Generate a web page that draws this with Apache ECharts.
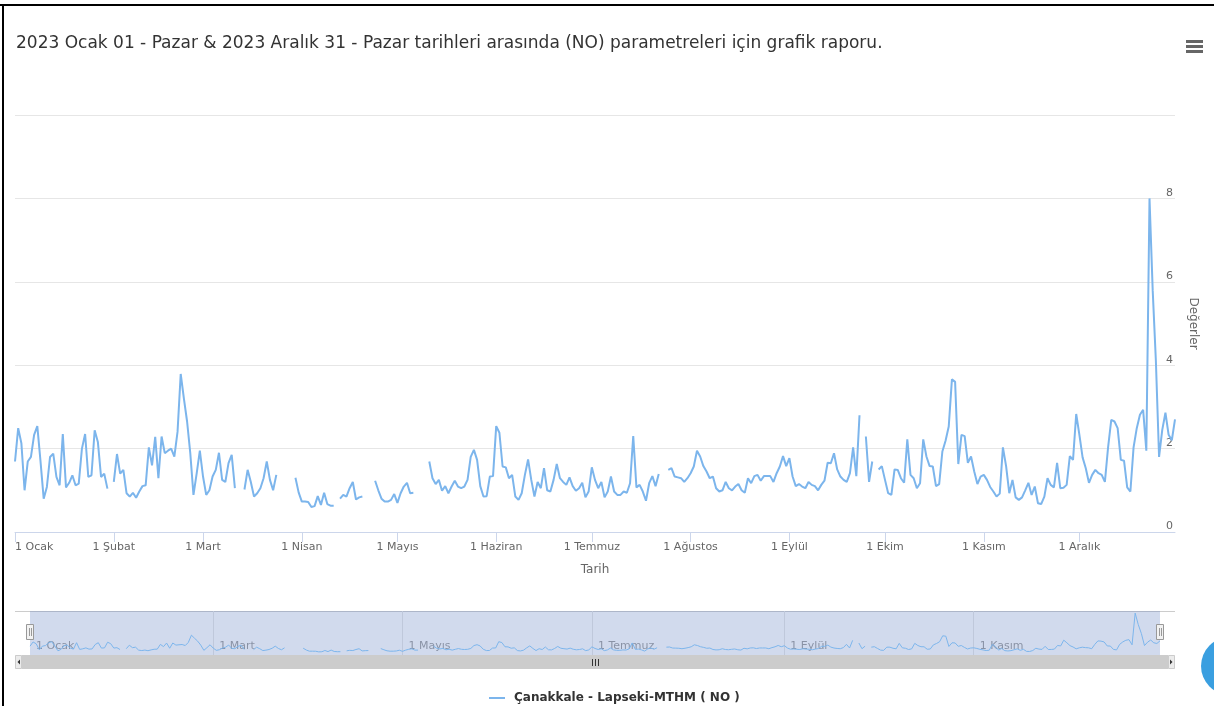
<!DOCTYPE html>
<html>
<head>
<meta charset="utf-8">
<title>NO grafik raporu</title>
<script src="https://cdn.jsdelivr.net/npm/echarts@6/dist/echarts.min.js"></script>
<style>
  html, body { margin: 0; padding: 0; background: #fff; }
  #chart { width: 1214px; height: 706px; }
</style>
</head>
<body>
<div id="chart"></div>
<script>
const seriesName = 'Çanakkale - Lapseki-MTHM ( NO )';
const titleText = '2023 Ocak 01 - Pazar & 2023 Aralık 31 - Pazar tarihleri arasında (NO) parametreleri için grafik raporu.';

// day index (0 = 1 Ocak 2023) of each month start, and its label
const monthStarts = [0, 31, 59, 90, 120, 151, 181, 212, 243, 273, 304, 334];
const monthNames = ['Ocak', 'Şubat', 'Mart', 'Nisan', 'Mayıs', 'Haziran', 'Temmuz', 'Ağustos', 'Eylül', 'Ekim', 'Kasım', 'Aralık'];
const navLabelDays = [0, 59, 120, 181, 243, 304];
const navLineDays = [59, 120, 181, 243, 304];

// daily NO values, one array per month (null = no measurement)
const ocak = [1.69, 2.49, 2.13, 1.0, 1.69, 1.8, 2.33, 2.54, 1.7, 0.8, 1.08, 1.8, 1.88, 1.32, 1.12, 2.35,
  1.07, 1.18, 1.36, 1.12, 1.16, 2.0, 2.35, 1.32, 1.36, 2.44, 2.16, 1.32, 1.4, 1.04, null];
const subat = [1.2, 1.87, 1.4, 1.49, 0.93, 0.85, 0.94, 0.82, 0.97, 1.1, 1.12, 2.03, 1.6, 2.28,
  1.29, 2.29, 1.89, 1.95, 2.0, 1.81, 2.4, 3.79, 3.2, 2.65, 1.89, 0.89, 1.4, 1.95];
const mart = [1.33, 0.89, 1.0, 1.33, 1.49, 1.9, 1.25, 1.2, 1.65, 1.85, 1.05, null, null, 1.02, 1.49, 1.2,
  0.85, 0.93, 1.05, 1.29, 1.69, 1.25, 1.0, 1.37, null, null, null, null, null, 1.3, 0.95];
const nisan = [0.73, 0.73, 0.72, 0.6, 0.62, 0.86, 0.65, 0.94, 0.67, 0.63, 0.63, null, 0.8, 0.89, 0.85,
  1.05, 1.2, 0.78, 0.83, 0.85, null, null, null, 1.23, 1.0, 0.8, 0.73, 0.73, 0.77, 0.91];
const mayis = [0.7, 0.93, 1.09, 1.18, 0.93, 0.94, null, null, null, null, 1.69, 1.29, 1.15, 1.25, 0.99, 1.1,
  0.93, 1.09, 1.23, 1.09, 1.05, 1.09, 1.25, 1.8, 1.97, 1.73, 1.1, 0.85, 0.86, 1.33, 1.34];
const haziran = [2.54, 2.38, 1.57, 1.55, 1.29, 1.37, 0.85, 0.77, 0.93, 1.37, 1.74, 1.25, 0.85, 1.2, 1.05,
  1.53, 1.0, 0.97, 1.25, 1.63, 1.29, 1.2, 1.13, 1.31, 1.1, 0.99, 1.05, 1.18, 0.83, 0.97];
const temmuz = [1.55, 1.25, 1.05, 1.2, 0.83, 0.97, 1.33, 0.97, 0.89, 0.89, 0.97, 0.94, 1.17, 2.3, 1.07, 1.13,
  0.97, 0.75, 1.17, 1.34, 1.1, 1.39, null, null, 1.49, 1.53, 1.33, 1.31, 1.29, 1.2, 1.29];
const agustos = [1.41, 1.57, 1.95, 1.81, 1.58, 1.45, 1.29, 1.33, 1.05, 0.97, 1.0, 1.2, 1.05, 1.0, 1.09, 1.15,
  1.0, 0.94, 1.29, 1.17, 1.34, 1.37, 1.23, 1.34, 1.34, 1.34, 1.2, 1.41, 1.57, 1.82, 1.58];
const eylul = [1.77, 1.33, 1.1, 1.15, 1.09, 1.05, 1.2, 1.13, 1.1, 1.0, 1.13, 1.23, 1.66, 1.65, 1.89,
  1.5, 1.33, 1.25, 1.2, 1.41, 2.03, 1.34, 2.8, null, 2.29, 1.2, 1.69, null, 1.5, 1.58];
const ekim = [1.25, 0.93, 0.89, 1.5, 1.49, 1.29, 1.18, 2.22, 1.37, 1.29, 1.05, 1.17, 2.22, 1.81, 1.58, 1.57,
  1.1, 1.15, 1.93, 2.19, 2.53, 3.66, 3.6, 1.63, 2.33, 2.3, 1.66, 1.81, 1.45, 1.15, 1.33];
const kasim = [1.37, 1.25, 1.08, 0.97, 0.85, 0.92, 2.03, 1.58, 0.93, 1.25, 0.83, 0.77, 0.83, 1.0, 1.18,
  0.89, 1.09, 0.69, 0.67, 0.85, 1.29, 1.13, 1.07, 1.66, 1.05, 1.06, 1.13, 1.82, 1.73, 2.83];
const aralik = [2.33, 1.79, 1.53, 1.18, 1.37, 1.49, 1.41, 1.37, 1.2, 2.03, 2.69, 2.65, 2.49, 1.73, 1.71, 1.07,
  0.97, 2.03, 2.49, 2.81, 2.93, 1.95, 8.0, 5.8, 4.1, 1.8, 2.45, 2.86, 2.33, 2.2, 2.7];

const values = [].concat(ocak, subat, mart, nisan, mayis, haziran, temmuz, agustos, eylul, ekim, kasim, aralik);
const points = values.map((v, i) => [i, v]);

const monthLabel = (v) => {
  const idx = monthStarts.indexOf(Math.round(v));
  return idx >= 0 ? '1 ' + monthNames[idx] : '';
};

const fontFamily = '"DejaVu Sans", "Open Sans", sans-serif';
const chart = echarts.init(document.getElementById('chart'));

const option = {
  animation: false,
  textStyle: { fontFamily: fontFamily },
  title: {
    text: titleText,
    left: 11,
    top: 30,
    textStyle: { fontSize: 17, fontWeight: 'normal', color: '#333333', fontFamily: fontFamily }
  },
  legend: {
    data: [seriesName],
    top: 687,
    left: 484,
    icon: 'rect',
    itemWidth: 16,
    itemHeight: 2,
    itemGap: 10,
    textStyle: { fontSize: 12, fontWeight: 'bold', color: '#333333', fontFamily: fontFamily, padding: [0, 0, 0, 4] }
  },
  grid: [
    { left: 15, top: 115, width: 1160, height: 417 },
    { left: 30, top: 611, width: 1130, height: 44 }
  ],
  xAxis: [
    {
      type: 'value',
      gridIndex: 0,
      min: 0,
      max: 364,
      name: 'Tarih',
      nameLocation: 'middle',
      nameGap: 32,
      nameTextStyle: { fontSize: 12, color: '#666666', fontFamily: fontFamily },
      axisLine: { lineStyle: { color: '#ccd6eb' } },
      axisTick: { customValues: monthStarts, length: 10, lineStyle: { color: '#ccd6eb' } },
      axisLabel: {
        customValues: monthStarts,
        formatter: monthLabel,
        fontSize: 11,
        color: '#666666',
        margin: 10,
        alignMinLabel: 'left',
        fontFamily: fontFamily
      },
      splitLine: { show: false }
    },
    {
      type: 'value',
      gridIndex: 1,
      min: 0,
      max: 364,
      axisLine: { show: false },
      axisTick: { inside: true, length: 44, customValues: navLineDays, lineStyle: { color: '#e6e6e6' } },
      axisLabel: {
        inside: true,
        customValues: navLabelDays,
        formatter: monthLabel,
        fontSize: 11,
        color: '#999999',
        align: 'left',
        padding: [0, 0, 0, 6],
        margin: 3,
        fontFamily: fontFamily
      },
      splitLine: { show: false }
    }
  ],
  yAxis: [
    {
      type: 'value',
      gridIndex: 0,
      position: 'right',
      min: 0,
      max: 10,
      interval: 2,
      name: 'Değerler',
      nameLocation: 'middle',
      nameRotate: -90,
      nameGap: 12,
      nameTextStyle: { fontSize: 12, color: '#666666', fontFamily: fontFamily },
      axisLine: { show: false },
      axisTick: { show: false },
      axisLabel: {
        inside: true,
        margin: 2,
        verticalAlign: 'bottom',
        fontSize: 11,
        color: '#666666',
        fontFamily: fontFamily,
        formatter: (v) => (v === 10 ? '' : String(v))
      },
      splitLine: { lineStyle: { color: '#e6e6e6' } }
    },
    {
      type: 'value',
      gridIndex: 1,
      min: 0,
      max: 8.4,
      show: false
    }
  ],
  series: [
    {
      name: seriesName,
      type: 'line',
      xAxisIndex: 0,
      yAxisIndex: 0,
      data: points,
      symbol: 'none',
      connectNulls: false,
      itemStyle: { color: '#7cb5ec' },
      lineStyle: { color: '#7cb5ec', width: 2 },
      z: 3
    },
    {
      name: seriesName,
      type: 'line',
      xAxisIndex: 1,
      yAxisIndex: 1,
      data: points,
      symbol: 'none',
      silent: true,
      connectNulls: false,
      itemStyle: { color: '#7cb5ec' },
      lineStyle: { color: '#7cb5ec', width: 1 },
      z: 3
    }
  ],
  graphic: [
    // frame
    { type: 'rect', shape: { x: 0, y: 4, width: 1214, height: 2 }, style: { fill: '#000' } },
    { type: 'rect', shape: { x: 2, y: 4, width: 2, height: 702 }, style: { fill: '#000' } },
    // context menu icon
    { type: 'rect', shape: { x: 1186, y: 40, width: 17, height: 3 }, style: { fill: '#666' } },
    { type: 'rect', shape: { x: 1186, y: 45, width: 17, height: 3 }, style: { fill: '#666' } },
    { type: 'rect', shape: { x: 1186, y: 50, width: 17, height: 3 }, style: { fill: '#666' } },
    // navigator outline and mask
    { type: 'line', shape: { x1: 15, y1: 611.5, x2: 1175, y2: 611.5 }, style: { stroke: '#cccccc', lineWidth: 1 } },
    { type: 'rect', z: 1, shape: { x: 30, y: 611, width: 1130, height: 44 }, style: { fill: 'rgba(102,133,194,0.3)' } },
    // handles
    { type: 'rect', z: 5, shape: { x: 26.5, y: 624.5, width: 7, height: 15 }, style: { fill: '#f2f2f2', stroke: '#999', lineWidth: 1 } },
    { type: 'line', z: 5, shape: { x1: 29.5, y1: 628, x2: 29.5, y2: 636 }, style: { stroke: '#999', lineWidth: 1 } },
    { type: 'line', z: 5, shape: { x1: 31.5, y1: 628, x2: 31.5, y2: 636 }, style: { stroke: '#999', lineWidth: 1 } },
    { type: 'rect', z: 5, shape: { x: 1156.5, y: 624.5, width: 7, height: 15 }, style: { fill: '#f2f2f2', stroke: '#999', lineWidth: 1 } },
    { type: 'line', z: 5, shape: { x1: 1159.5, y1: 628, x2: 1159.5, y2: 636 }, style: { stroke: '#999', lineWidth: 1 } },
    { type: 'line', z: 5, shape: { x1: 1161.5, y1: 628, x2: 1161.5, y2: 636 }, style: { stroke: '#999', lineWidth: 1 } },
    // scrollbar
    { type: 'rect', shape: { x: 15, y: 655, width: 1160, height: 14 }, style: { fill: '#f2f2f2' } },
    { type: 'rect', shape: { x: 22, y: 655, width: 1146, height: 14 }, style: { fill: '#cccccc' } },
    { type: 'rect', shape: { x: 15.5, y: 655.5, width: 6, height: 13 }, style: { fill: '#ebebeb', stroke: '#cccccc', lineWidth: 1 } },
    { type: 'rect', shape: { x: 1168.5, y: 655.5, width: 6, height: 13 }, style: { fill: '#ebebeb', stroke: '#cccccc', lineWidth: 1 } },
    { type: 'polygon', shape: { points: [[20, 659.5], [20, 664.5], [17.5, 662]] }, style: { fill: '#333' } },
    { type: 'polygon', shape: { points: [[1170, 659.5], [1170, 664.5], [1172.5, 662]] }, style: { fill: '#333' } },
    { type: 'line', shape: { x1: 592.5, y1: 659, x2: 592.5, y2: 666 }, style: { stroke: '#333', lineWidth: 1 } },
    { type: 'line', shape: { x1: 595.5, y1: 659, x2: 595.5, y2: 666 }, style: { stroke: '#333', lineWidth: 1 } },
    { type: 'line', shape: { x1: 598.5, y1: 659, x2: 598.5, y2: 666 }, style: { stroke: '#333', lineWidth: 1 } },
    // floating button partly outside the page
    { type: 'circle', shape: { cx: 1230, cy: 666, r: 29 }, style: { fill: '#3a9fe0' } }
  ]
};

chart.setOption(option);
</script>
</body>
</html>
